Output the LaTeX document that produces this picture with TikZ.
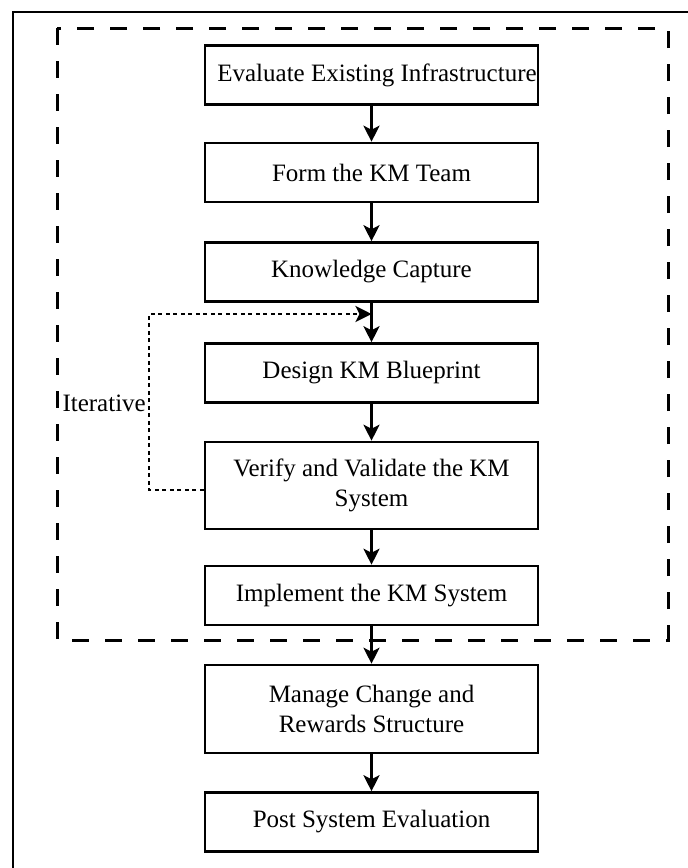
\documentclass[tikz,border=0pt]{standalone}
\usepackage{fontspec}
\setmainfont{Liberation Serif}
\usetikzlibrary{arrows.meta, positioning}

\begin{document}
\begin{tikzpicture}[x=1pt, y=-1pt,
    stepbox/.style={draw, line width=2.6pt, minimum width=333pt, minimum height=59pt, align=center, inner sep=0pt, font=\fontsize{25}{30}\selectfont},
    flow/.style={line width=2.4pt, -{Stealth[length=16pt, width=16pt, inset=4pt]}},
    loopline/.style={line width=2.8pt, dash pattern=on 4pt off 3.5pt, -{Stealth[length=16pt, width=16pt, inset=4pt]}}]
    \useasboundingbox (0,0) rectangle (688,868);
    \draw[line width=1.8pt] (13,868) -- (13,12) -- (688,12);
    \draw[line width=3pt, dash pattern=on 17pt off 16pt] (57,28) rectangle (668,640);
    \node[stepbox] (evaluate) at (371.5,75) {\hspace*{11pt}Evaluate Existing Infrastructure};
    \node[stepbox] (team) at (371.5,172.5) {Form the KM Team};
    \node[stepbox] (capture) at (371.5,272) {Knowledge Capture};
    \node[stepbox] (blueprint) at (371.5,373) {Design KM Blueprint};
    \node[stepbox, minimum height=87pt] (verify) at (371.5,485.5) {Verify and Validate the KM\\System};
    \node[stepbox] (implement) at (371.5,595.5) {Implement the KM System};
    \node[stepbox, minimum height=88pt] (change) at (371.5,709) {Manage Change and\\Rewards Structure};
    \node[stepbox] (post) at (371.5,822) {Post System Evaluation};
    \draw[flow] (evaluate) -- (team);
    \draw[flow] (team) -- (capture);
    \draw[flow] (capture) -- (blueprint);
    \draw[flow] (blueprint) -- (verify);
    \draw[flow] (verify) -- (implement);
    \draw[flow] (implement) -- (change);
    \draw[flow] (change) -- (post);
    % feedback loop
    \coordinate (turn) at (149,314);
    \coordinate (join) at (371.5,314);
    \draw[loopline] ([yshift=-4.5pt]verify.west) -| (turn) -- (join);
    \node[anchor=east, inner sep=0pt, font=\fontsize{25}{30}\selectfont] (iterative) at (146,403) {Iterative};
\end{tikzpicture}
\end{document}
